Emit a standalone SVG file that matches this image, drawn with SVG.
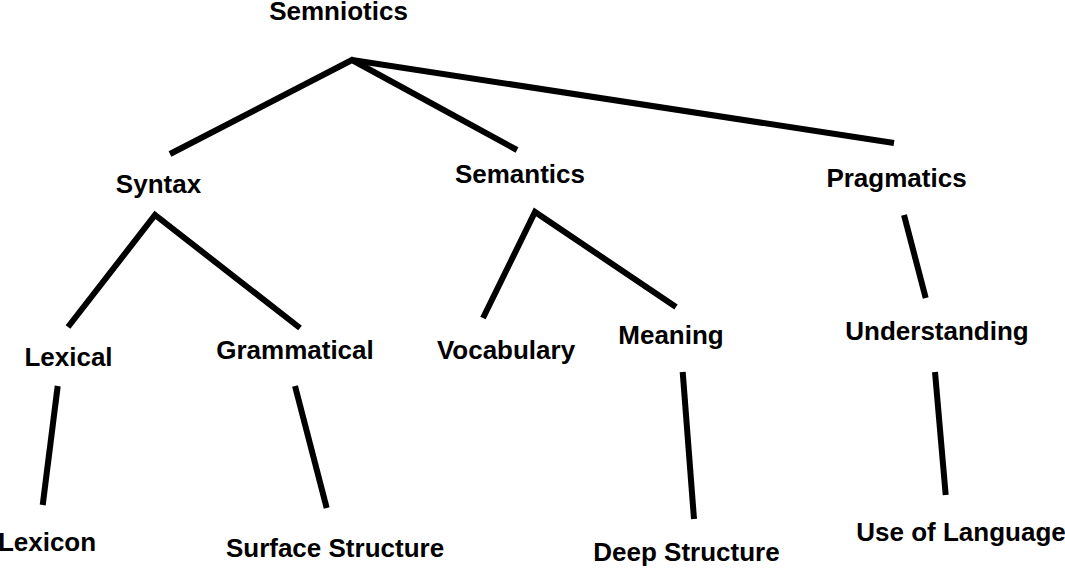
<svg xmlns="http://www.w3.org/2000/svg" width="1065" height="568" viewBox="0 0 1065 568">
<style>
.lbl{font-family:"Liberation Sans",Arial,sans-serif;font-weight:bold;font-size:26px;fill:#000;text-anchor:middle}
.edge{stroke:#000;stroke-width:6;fill:none;stroke-linecap:butt;stroke-linejoin:miter}
</style>
<rect width="1065" height="568" fill="#fff"/>
<g id="connectors">
<polyline class="edge" points="170,154 352,60 517,150"/>
<line class="edge" x1="352" y1="60" x2="894" y2="143"/>
<polyline class="edge" points="68,327 155,215 300,328"/>
<line class="edge" x1="57.7" y1="386" x2="42.7" y2="505"/>
<line class="edge" x1="295" y1="386" x2="326.7" y2="508"/>
<polyline class="edge" points="483,318 535,212 676,307"/>
<line class="edge" x1="682.7" y1="372" x2="694" y2="519"/>
<line class="edge" x1="904" y1="215" x2="925.7" y2="298"/>
<line class="edge" x1="935" y1="372" x2="945.7" y2="495"/>
</g>
<g id="n-semniotics"><text class="lbl" x="338.5" y="20">Semniotics</text></g>
<g id="n-syntax"><text class="lbl" x="158.5" y="193">Syntax</text></g>
<g id="n-semantics"><text class="lbl" x="520" y="183">Semantics</text></g>
<g id="n-pragmatics"><text class="lbl" x="896.5" y="187">Pragmatics</text></g>
<g id="n-lexical"><text class="lbl" x="68.5" y="366">Lexical</text></g>
<g id="n-grammatical"><text class="lbl" x="295" y="359">Grammatical</text></g>
<g id="n-vocabulary"><text class="lbl" x="506" y="359">Vocabulary</text></g>
<g id="n-meaning"><text class="lbl" x="671" y="344">Meaning</text></g>
<g id="n-understanding"><text class="lbl" x="937" y="340">Understanding</text></g>
<g id="n-lexicon"><text class="lbl" x="47" y="551">Lexicon</text></g>
<g id="n-surface"><text class="lbl" x="335" y="557">Surface Structure</text></g>
<g id="n-deep"><text class="lbl" x="686.5" y="561">Deep Structure</text></g>
<g id="n-use"><text class="lbl" x="961" y="541">Use of Language</text></g>
</svg>
